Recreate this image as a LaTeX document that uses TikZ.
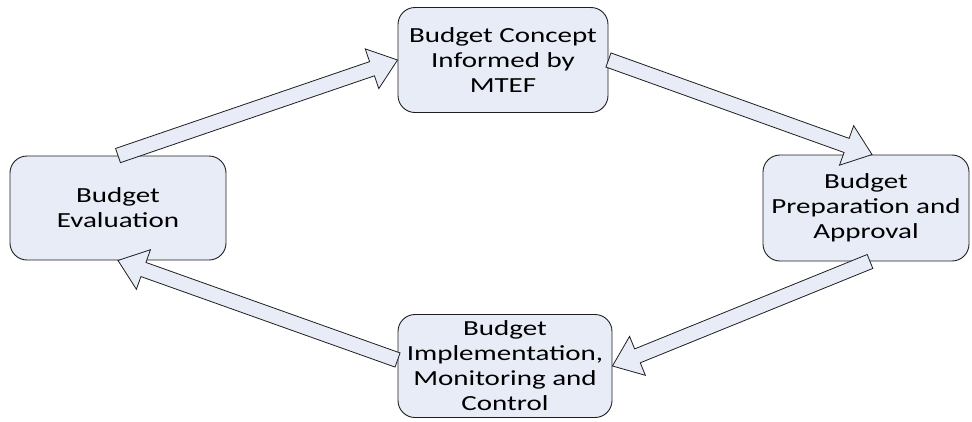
\documentclass[tikz,border=0pt]{standalone}
\usepackage{fontspec}
\setmainfont{Carlito}[FakeStretch=1.35]
\usetikzlibrary{calc}

\definecolor{boxfill}{RGB}{232,236,247}
\definecolor{boxline}{RGB}{30,30,30}

\tikzset{
  stage/.style={draw=boxline, fill=boxfill, line width=0.9pt, rounded corners=17pt,
    align=center, inner sep=0pt, font=\fontsize{21.5}{25}\selectfont},
  fatarrow/.style={draw=boxline, fill=boxfill, line width=0.8pt, line join=miter}
}

% block arrow from #1 (tail) to #2 (tip)
\newcommand{\blockarrow}[2]{%
  \coordinate (neck) at ($(#2)!27pt!(#1)$);
  \filldraw[fatarrow] ($(#1)!7.5pt!90:(#2)$) -- ($(neck)!7.5pt!90:(#2)$)
    -- ($(neck)!21pt!90:(#2)$) -- (#2) -- ($(neck)!21pt!-90:(#2)$)
    -- ($(neck)!7.5pt!-90:(#2)$) -- ($(#1)!7.5pt!-90:(#2)$) -- cycle;}

\begin{document}
\begin{tikzpicture}[x=1pt,y=-1pt]
  \useasboundingbox (0,0) rectangle (972,421);

  \node[stage, minimum width=210pt, minimum height=105pt] (concept) at (503,60)
    {Budget Concept\\Informed by\\MTEF};
  \node[stage, minimum width=216pt, minimum height=104pt] (eval) at (118,208)
    {Budget\\Evaluation};
  \node[stage, minimum width=206pt, minimum height=106pt] (prep) at (866,208)
    {Budget\\Preparation and\\Approval};
  \node[stage, minimum width=214pt, minimum height=103pt] (impl) at (505,366)
    {Budget\\Implementation,\\Monitoring and\\Control};

  % arrows round the cycle
  \coordinate (t4) at ([yshift=6pt]impl.west);
  \coordinate (h2) at ([xshift=6pt]prep.north);
  \coordinate (t3) at ([xshift=4pt]prep.south);
  \blockarrow{eval.north}{concept.west}
  \blockarrow{concept.east}{h2}
  \blockarrow{t3}{impl.east}
  \blockarrow{t4}{eval.south}
\end{tikzpicture}
\end{document}
